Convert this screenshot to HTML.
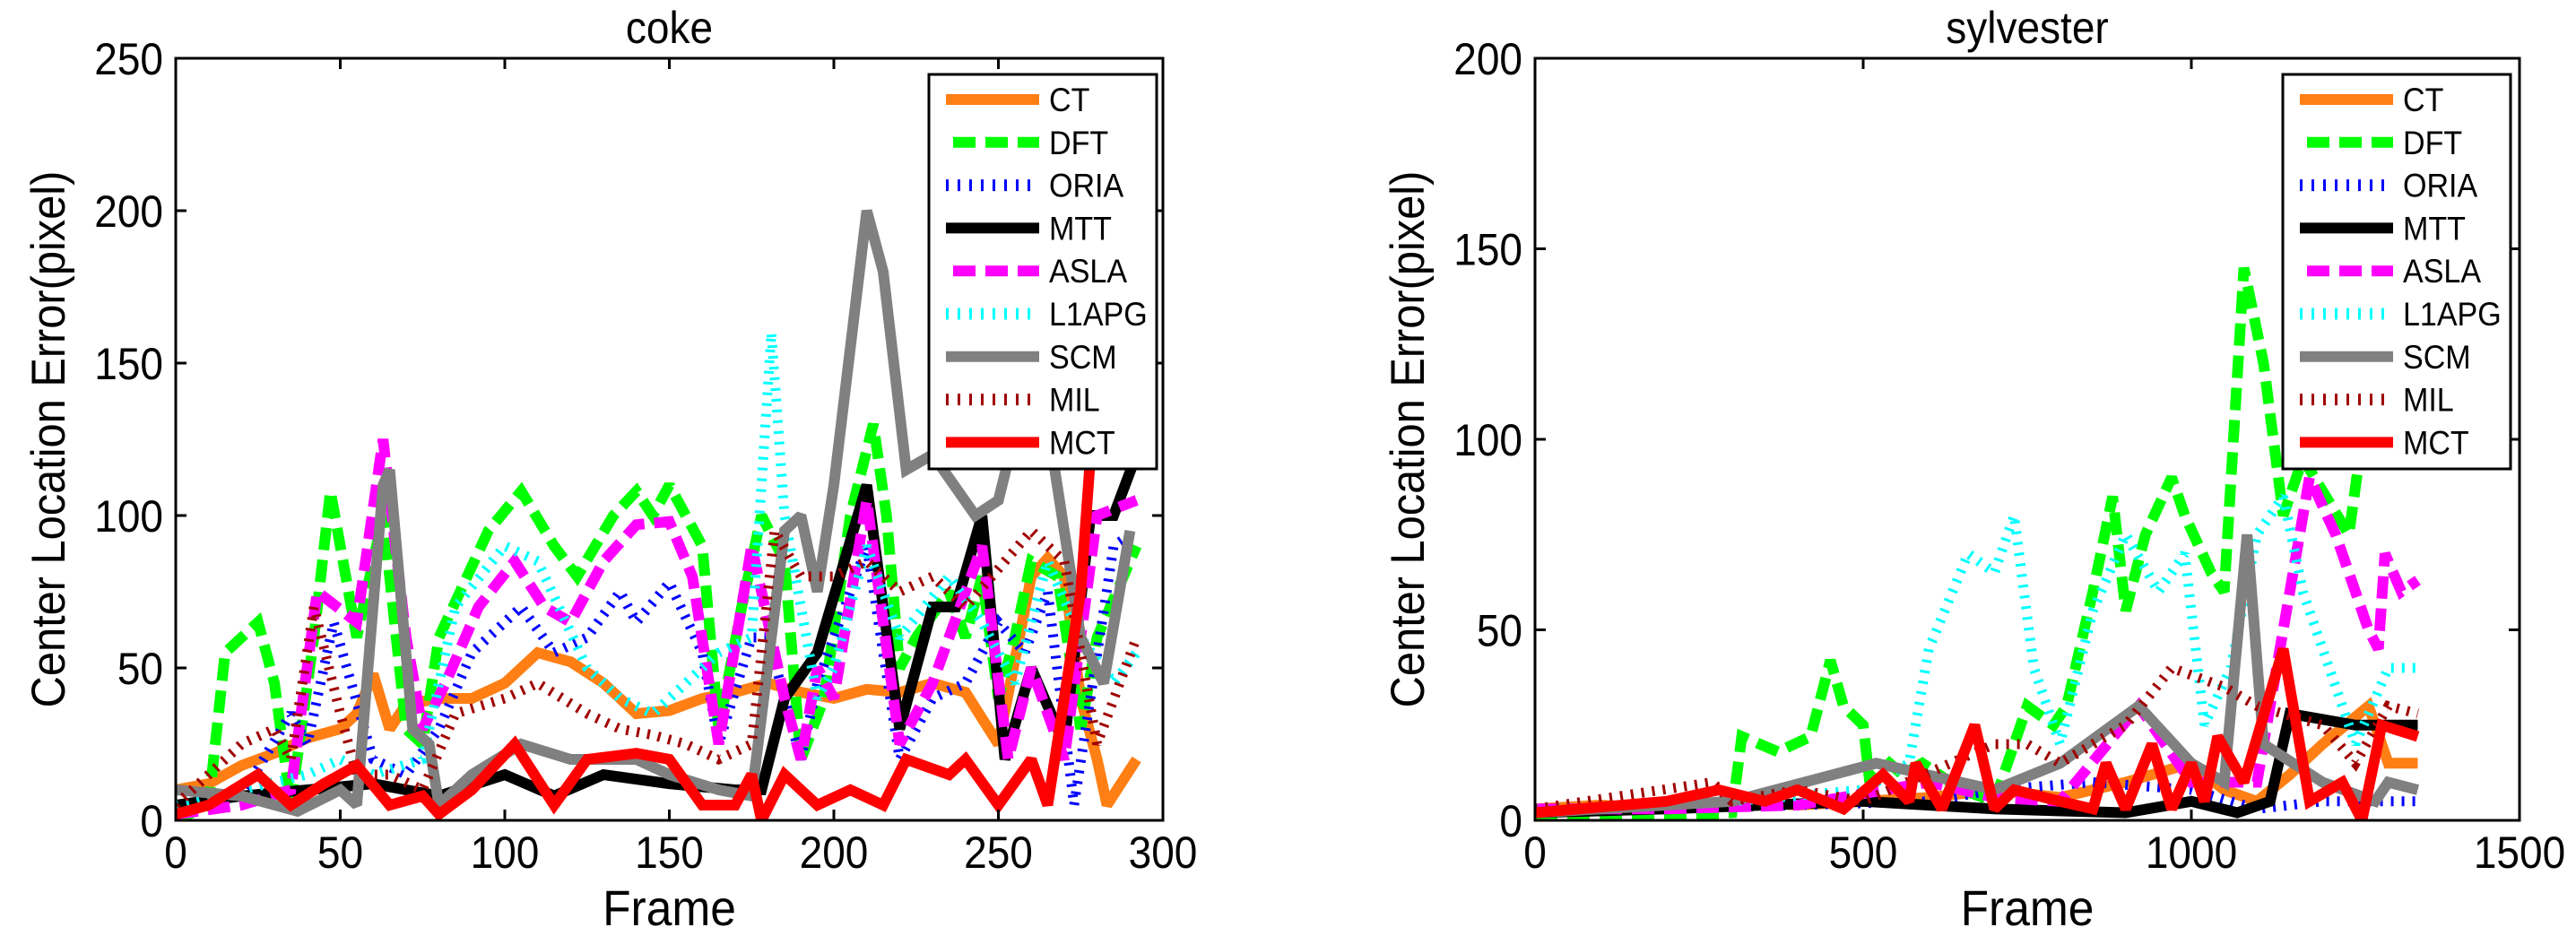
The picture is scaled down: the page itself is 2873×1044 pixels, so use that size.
<!DOCTYPE html>
<html><head><meta charset="utf-8">
<style>
html,body{margin:0;padding:0;background:#fff;}
svg{display:block;font-family:"Liberation Sans",Arial,sans-serif;}
</style></head>
<body>
<svg id="fig" width="2873" height="1044" viewBox="0 0 2873 1044" xmlns="http://www.w3.org/2000/svg">
<rect width="2873" height="1044" fill="#fff"/>
</svg>
<script>
// ---- legend / series meta ----
const seriesNames = ["CT","DFT","ORIA","MTT","ASLA","L1APG","SCM","MIL","MCT"];
const seriesColors = ["#ff7f14","#00ff00","#0000ff","#000000","#ff00ff","#00ffff","#808080","#a00000","#ff0000"];

// ---- coke data (frame, error) ----
const cokeCT_x = [0,10,20,30,40,50,55,60,65,70,80,90,100,110,120,130,140,150,160,170,180,190,200,210,220,230,240,250,260,265,270,275,280,283,292];
const cokeCT_y = [10,12,18,22,27,30,35,48,30,38,40,40,45,55,52,45,35,36,40,42,45,42,40,43,42,45,42,25,80,86,80,40,20,5,20];
const cokeDFT_x = [0,10,15,25,30,35,42,47,55,63,70,75,80,95,105,115,122,133,140,145,150,160,165,172,178,185,190,197,205,212,216,220,225,235,240,245,250,255,260,268,275,280,292];
const cokeDFT_y = [0,5,55,65,45,5,60,108,60,100,30,25,60,95,108,90,80,100,108,100,110,90,30,70,100,85,20,40,100,130,100,50,60,75,60,80,40,60,85,80,30,60,90];
const cokeORIA_x = [0,20,35,40,48,60,70,80,90,105,115,125,135,140,150,160,165,175,180,190,195,210,220,230,240,250,258,265,273,285,292];
const cokeORIA_y = [5,8,35,25,65,20,15,30,55,70,55,60,75,65,78,55,25,60,60,20,45,90,20,40,45,65,55,75,5,90,95];
const cokeMTT_x = [0,20,40,60,80,100,115,130,150,170,178,185,195,210,220,230,237,245,252,260,270,278,285,292];
const cokeMTT_y = [5,8,10,12,8,15,8,15,12,10,10,40,55,110,30,70,70,100,20,50,25,100,100,120];
const cokeASLA_x = [0,20,35,43,55,63,70,75,82,92,103,112,120,130,140,150,157,165,175,185,190,195,200,210,220,230,245,253,260,270,280,292];
const cokeASLA_y = [2,5,10,75,65,125,60,30,45,70,85,70,65,85,97,98,80,25,90,40,20,50,40,105,25,45,90,20,50,20,100,105];
const cokeL1APG_x = [0,20,40,50,60,75,85,100,110,125,135,145,155,165,175,181,185,195,200,210,220,235,245,255,265,275,285,292];
const cokeL1APG_y = [5,10,15,20,15,20,70,90,85,50,40,35,45,55,60,160,100,40,50,90,60,80,65,45,85,60,45,55];
const cokeSCM_x = [0,20,37,50,55,63,65,72,77,80,90,105,120,140,150,165,175,185,190,195,200,210,215,222,230,243,250,258,265,275,282,290];
const cokeSCM_y = [10,8,3,10,5,110,115,30,25,5,15,25,20,20,15,10,8,95,100,75,110,200,180,115,120,100,105,140,130,60,45,95];
const cokeMIL_x = [0,20,30,35,42,50,55,65,75,85,100,110,125,135,145,155,165,175,182,190,200,210,220,230,240,260,270,280,292];
const cokeMIL_y = [5,25,30,20,70,35,15,15,10,35,40,45,35,30,28,25,20,25,95,80,80,85,75,80,70,95,85,25,60];
const cokeMCT_x = [0,10,25,35,45,55,65,75,80,90,103,115,125,140,150,160,170,175,178,185,195,205,215,222,235,240,250,260,265,275,278];
const cokeMCT_y = [2,5,15,5,12,18,5,8,2,10,25,5,20,22,20,5,5,15,0,15,5,10,5,20,15,20,5,20,5,75,120];

// ---- sylvester data ----
const sylCT_x = [0,100,200,300,400,500,600,700,800,900,1000,1050,1100,1150,1200,1270,1300,1345];
const sylCT_y = [3,4,3,5,4,5,6,8,6,10,15,8,5,12,20,30,15,15];
const sylDFT_x = [0,200,300,315,370,420,450,470,500,510,540,560,590,650,700,750,790,810,850,880,900,930,970,990,1030,1050,1080,1110,1140,1170,1240,1260];
const sylDFT_y = [0,1,2,22,18,22,42,30,25,10,15,12,15,8,5,30,25,30,60,85,55,75,90,80,65,60,145,120,80,95,75,100];
const sylORIA_x = [0,200,400,600,700,850,1000,1100,1200,1345];
const sylORIA_y = [3,3,4,5,8,10,8,3,5,5];
const sylMTT_x = [0,200,500,700,900,1000,1070,1120,1150,1250,1300,1345];
const sylMTT_y = [2,3,5,3,2,5,2,5,28,25,25,25];
const sylASLA_x = [0,200,400,600,700,800,920,1000,1100,1150,1180,1220,1270,1285,1295,1320,1345];
const sylASLA_y = [3,3,4,10,6,5,30,10,10,60,90,75,50,45,70,60,63];
const sylL1APG_x = [0,300,500,570,600,660,700,730,760,800,850,900,950,990,1020,1060,1100,1140,1170,1250,1300,1345];
const sylL1APG_y = [3,5,8,15,45,70,65,80,40,20,55,75,60,70,25,40,75,85,60,20,40,40];
const sylSCM_x = [0,300,520,700,800,920,1000,1050,1085,1110,1200,1280,1300,1345];
const sylSCM_y = [2,5,15,8,15,30,15,10,75,20,10,5,10,8];
const sylMIL_x = [0,270,300,400,500,700,750,800,900,970,1050,1100,1200,1250,1300,1345];
const sylMIL_y = [3,10,5,8,5,20,20,15,25,40,35,30,25,15,30,28];
const sylMCT_x = [0,200,280,350,400,470,530,570,580,620,670,700,730,800,850,870,900,940,970,1000,1020,1040,1080,1140,1180,1230,1260,1290,1345];
const sylMCT_y = [2,5,8,5,8,3,12,5,15,3,25,3,8,5,3,15,3,20,3,15,5,22,10,45,5,10,0,25,22];

// ---- axis ticks ----
const cokeXTicks = [0,50,100,150,200,250,300];
const cokeYTicks = [0,50,100,150,200,250];
const sylXTicks = [0,500,1000,1500];
const sylYTicks = [0,50,100,150,200];

const NS = "http://www.w3.org/2000/svg";
const svg = document.getElementById("fig");
function mk(tag, attrs, parent){
  const e = document.createElementNS(NS, tag);
  for (const k in attrs) e.setAttribute(k, attrs[k]);
  (parent||svg).appendChild(e);
  return e;
}
const styles = [
  {w:12, dash:null},
  {w:12, dash:"25 11"},
  {w:11, dash:"3 9"},
  {w:12, dash:null},
  {w:12, dash:"25 11"},
  {w:11, dash:"3 9"},
  {w:12, dash:null},
  {w:11, dash:"3 9"},
  {w:12, dash:null}
];
// narrow text helper: horizontal squeeze like the reference font
function ntext(parent, x, y, size, anchor, str, extraTransform){
  const t = mk("text", {x: 0, y: 0, "font-size": size, "text-anchor": anchor, fill: "#000",
    transform: "translate(" + x + "," + y + ")" + (extraTransform || "") + " scale(0.92,1)"}, parent);
  t.textContent = str;
  return t;
}

function drawPanel(id, box, xMax, yMax, xTicks, yTicks, title, seriesX, seriesY, legendX){
  const g = mk("g", {});
  
  
  const xs = v => box.x0 + (v / xMax) * (box.x1 - box.x0);
  const ys = v => box.y1 - (v / yMax) * (box.y1 - box.y0);
  const cp = mk("clipPath", {id: id + "-clip"}, g);
  mk("rect", {x: box.x0, y: box.y0, width: box.x1 - box.x0, height: box.y1 - box.y0}, cp);
  const lines = mk("g", {"clip-path": "url(#" + id + "-clip)"}, g);
  
  
  for (let s = 0; s < seriesNames.length; s++){
    const px = seriesX[s], py = seriesY[s];
    let d = "";
    for (let i = 0; i < px.length; i++) d += (i ? "L" : "M") + xs(px[i]).toFixed(1) + "," + ys(py[i]).toFixed(1);
    const p = mk("path", {d: d, fill: "none", stroke: seriesColors[s], "stroke-width": styles[s].w, "stroke-linejoin": "miter", "stroke-miterlimit": 2}, lines);
    if (styles[s].dash) p.setAttribute("stroke-dasharray", styles[s].dash);
    
    
  }
  const frame = mk("rect", {x: box.x0, y: box.y0, width: box.x1 - box.x0, height: box.y1 - box.y0, fill: "none", stroke: "#000", "stroke-width": 3}, g);
  
  
  for (const t of xTicks){
    const x = xs(t);
    mk("line", {x1: x, x2: x, y1: box.y1, y2: box.y1 - 12, stroke: "#000", "stroke-width": 3}, g);
    mk("line", {x1: x, x2: x, y1: box.y0, y2: box.y0 + 12, stroke: "#000", "stroke-width": 3}, g);
    const tx = ntext(g, x, box.y1 + 53, 50, "middle", String(t));
    
    
  }
  for (const t of yTicks){
    const y = ys(t);
    mk("line", {x1: box.x0, x2: box.x0 + 12, y1: y, y2: y, stroke: "#000", "stroke-width": 3}, g);
    mk("line", {x1: box.x1, x2: box.x1 - 12, y1: y, y2: y, stroke: "#000", "stroke-width": 3}, g);
    const ty = ntext(g, box.x0 - 14, y + 18, 50, "end", String(t));
    
    
  }
  const cx = (box.x0 + box.x1) / 2;
  const tt = ntext(g, cx, 48, 50, "middle", title);
  
  
  const xl = ntext(g, cx, 1032, 56, "middle", "Frame");
  
  
  const yc = (box.y0 + box.y1) / 2;
  const yl = ntext(g, box.x0 - 124, yc, 53, "middle", "Center Location Error(pixel)", " rotate(-90)");
  
  
  const lg = mk("g", {}, g);
  
  
  mk("rect", {x: legendX, y: 83, width: 254, height: 440, fill: "#fff", stroke: "#000", "stroke-width": 3}, lg);
  for (let s = 0; s < seriesNames.length; s++){
    const y = 111 + s * 47.8;
    const e = mk("g", {}, lg);
    
    
    const ln = mk("line", {x1: legendX + 19, x2: legendX + 123, y1: y, y2: y, stroke: seriesColors[s], "stroke-width": styles[s].w}, e);
    if (styles[s].dash){
      if (styles[s].dash === "25 11"){ ln.setAttribute("stroke-dasharray", "25 11"); ln.setAttribute("stroke-dashoffset", "-8"); }
      else { ln.setAttribute("stroke-dasharray", "3 10"); ln.setAttribute("stroke-width", 13); }
    }
    ntext(e, legendX + 134, y + 13, 37, "start", seriesNames[s]);
  }
}

drawPanel("coke", {x0: 196, x1: 1297, y0: 65, y1: 915}, 300, 250, cokeXTicks, cokeYTicks, "coke",
  [cokeCT_x,cokeDFT_x,cokeORIA_x,cokeMTT_x,cokeASLA_x,cokeL1APG_x,cokeSCM_x,cokeMIL_x,cokeMCT_x],
  [cokeCT_y,cokeDFT_y,cokeORIA_y,cokeMTT_y,cokeASLA_y,cokeL1APG_y,cokeSCM_y,cokeMIL_y,cokeMCT_y], 1036);
drawPanel("sylvester", {x0: 1712, x1: 2810, y0: 65, y1: 915}, 1500, 200, sylXTicks, sylYTicks, "sylvester",
  [sylCT_x,sylDFT_x,sylORIA_x,sylMTT_x,sylASLA_x,sylL1APG_x,sylSCM_x,sylMIL_x,sylMCT_x],
  [sylCT_y,sylDFT_y,sylORIA_y,sylMTT_y,sylASLA_y,sylL1APG_y,sylSCM_y,sylMIL_y,sylMCT_y], 2546);
</script>
</body></html>
